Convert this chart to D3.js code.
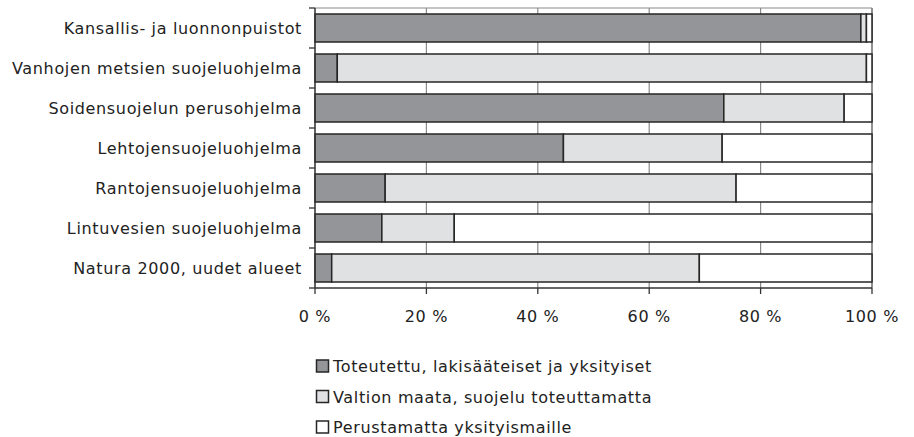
<!DOCTYPE html>
<html><head><meta charset="utf-8">
<script src="https://cdn.jsdelivr.net/npm/d3@7"></script>
<style>body{margin:0;background:#fff}svg{display:block}text{font-family:"DejaVu Sans",Verdana,sans-serif;fill:#222;letter-spacing:0.65px}</style>
</head><body>
<script>
const categories = ["Kansallis- ja luonnonpuistot","Vanhojen metsien suojeluohjelma","Soidensuojelun perusohjelma","Lehtojensuojeluohjelma","Rantojensuojeluohjelma","Lintuvesien suojeluohjelma","Natura 2000, uudet alueet"];
const seriesNames = ["Toteutettu, lakisääteiset ja yksityiset","Valtion maata, suojelu toteuttamatta","Perustamatta yksityismaille"];
const toteutettu = [98, 4, 73.4, 44.6, 12.6, 12, 3];
const valtion = [1, 95, 21.6, 28.5, 63, 13, 66];
const perustamatta = [1, 1, 5, 26.9, 24.4, 75, 31];
const ticks = [0,20,40,60,80,100];
const colors = ["#949598","#e0e1e3","#ffffff"];

const W=914,H=437;
const svg=d3.select("body").append("svg").attr("width",W).attr("height",H);
const x=d3.scaleLinear().domain([0,100]).range([315,872]);
const y=d3.scaleBand().domain(categories).range([8,288]).paddingInner(0.3).paddingOuter(0.15);
const series=[toteutettu,valtion,perustamatta];
const rows=categories.map((c,i)=>({c,v:series.map(s=>s[i])}));

// grid
svg.append("g").selectAll("line").data(ticks).join("line")
 .attr("x1",d=>x(d)).attr("x2",d=>x(d)).attr("y1",8).attr("y2",288)
 .attr("stroke",d=>d===100?"#444":"#8a8a8a").attr("stroke-width",1.2);
svg.append("line").attr("x1",315).attr("x2",872).attr("y1",8).attr("y2",8).attr("stroke","#8a8a8a").attr("stroke-width",1.2);

// bars
const g=svg.append("g");
rows.forEach(r=>{
  let acc=0;
  r.v.forEach((v,j)=>{
    g.append("rect").attr("x",x(acc)).attr("width",x(acc+v)-x(acc))
     .attr("y",y(r.c)).attr("height",y.bandwidth())
     .attr("fill",colors[j]).attr("stroke","#262626").attr("stroke-width",1.5);
    acc+=v;
  });
});

// y axis
const ya=svg.append("g");
ya.append("line").attr("x1",315).attr("x2",315).attr("y1",8).attr("y2",288).attr("stroke","#333").attr("stroke-width",1.3);
const bounds=d3.range(categories.length+1).map(i=>8+i*y.step());
ya.selectAll("line.t").data(bounds).join("line").attr("class","t")
 .attr("x1",309).attr("x2",315).attr("y1",d=>d).attr("y2",d=>d).attr("stroke","#333").attr("stroke-width",1.3);
ya.selectAll("text").data(categories).join("text")
 .attr("x",302).attr("y",d=>y(d)+y.bandwidth()/2).attr("dy","0.36em")
 .attr("text-anchor","end").style("font-size","16px").text(d=>d);

// x axis
const xa=svg.append("g");
xa.append("line").attr("x1",315).attr("x2",872).attr("y1",288).attr("y2",288).attr("stroke","#333").attr("stroke-width",1.5);
xa.selectAll("line.t").data(ticks).join("line").attr("class","t")
 .attr("x1",d=>x(d)).attr("x2",d=>x(d)).attr("y1",288).attr("y2",294).attr("stroke","#333").attr("stroke-width",1.3);
xa.selectAll("text").data(ticks).join("text")
 .attr("x",d=>x(d)).attr("y",322).attr("text-anchor","middle").style("font-size","16px").text(d=>d+" %");

// legend
const lg=svg.append("g");
seriesNames.forEach((n,i)=>{
  const yy=372+i*30.5;
  lg.append("rect").attr("x",316.5).attr("y",yy-12).attr("width",12).attr("height",12)
    .attr("fill",colors[i]).attr("stroke","#262626").attr("stroke-width",1.5);
  lg.append("text").attr("x",333).attr("y",yy).style("font-size","16px").text(n);
});
</script>
</body></html>
